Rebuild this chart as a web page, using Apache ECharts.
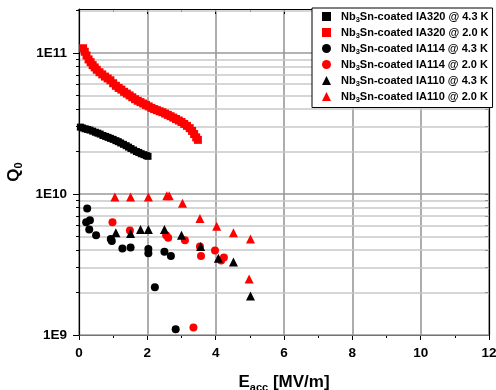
<!DOCTYPE html>
<html>
<head>
<meta charset="utf-8">
<script src="https://cdn.jsdelivr.net/npm/echarts@6/dist/echarts.min.js"></script>
<style>
  html, body { margin: 0; padding: 0; background: #fff; }
  #chart { width: 496px; height: 390px; }
</style>
</head>
<body>
<div id="chart"></div>
<script>
// Q0 vs Eacc for Nb3Sn-coated cavities
const seriesNames = [
  'IA320 @ 4.3 K',
  'IA320 @ 2.0 K',
  'IA114 @ 4.3 K',
  'IA114 @ 2.0 K',
  'IA110 @ 4.3 K',
  'IA110 @ 2.0 K',
];

const ia320At43 = [
  [0.04, 2.98e10], [0.1, 2.94e10], [0.18, 2.9e10], [0.25, 2.87e10], [0.32, 2.84e10],
  [0.4, 2.79e10], [0.48, 2.74e10], [0.55, 2.7e10], [0.62, 2.66e10], [0.7, 2.6e10],
  [0.78, 2.56e10], [0.85, 2.52e10], [0.92, 2.48e10], [1.0, 2.44e10], [1.08, 2.39e10],
  [1.15, 2.35e10], [1.22, 2.3e10], [1.3, 2.25e10], [1.38, 2.2e10], [1.45, 2.15e10],
  [1.52, 2.1e10], [1.6, 2.05e10], [1.68, 2.0e10], [1.75, 1.97e10], [1.82, 1.93e10],
  [1.9, 1.9e10], [1.97, 1.87e10], [2.02, 1.85e10],
];

const ia320At20 = [
  [0.12, 1.08e11], [0.17, 1.02e11], [0.22, 9.6e10], [0.28, 9.0e10], [0.34, 8.6e10],
  [0.4, 8.2e10], [0.46, 7.9e10], [0.52, 7.6e10], [0.6, 7.3e10], [0.68, 7.05e10],
  [0.76, 6.8e10], [0.84, 6.6e10], [0.92, 6.4e10], [1.0, 6.1e10], [1.08, 5.85e10],
  [1.16, 5.65e10], [1.24, 5.5e10], [1.32, 5.3e10], [1.4, 5.15e10], [1.48, 5.0e10],
  [1.56, 4.85e10], [1.64, 4.7e10], [1.72, 4.58e10], [1.8, 4.48e10], [1.88, 4.38e10],
  [1.96, 4.28e10], [2.04, 4.18e10], [2.12, 4.08e10], [2.2, 4.0e10], [2.28, 3.93e10],
  [2.36, 3.86e10], [2.44, 3.8e10], [2.52, 3.72e10], [2.6, 3.64e10], [2.68, 3.56e10],
  [2.76, 3.48e10], [2.84, 3.4e10], [2.92, 3.32e10], [3.0, 3.24e10], [3.08, 3.14e10],
  [3.16, 3.04e10], [3.24, 2.93e10], [3.31, 2.8e10], [3.37, 2.66e10], [3.43, 2.52e10],
  [3.48, 2.42e10],
];

const ia114At43 = [
  [0.24, 7.9e9], [0.32, 6.5e9], [0.21, 6.3e9], [0.3, 5.6e9], [0.5, 5.1e9],
  [0.93, 4.8e9], [0.96, 4.65e9], [1.27, 4.1e9], [1.51, 4.17e9], [2.03, 4.08e9],
  [2.03, 3.8e9], [2.5, 3.9e9], [2.69, 3.63e9], [2.22, 2.18e9], [2.83, 1.1e9],
];

const ia114At20 = [
  [0.98, 6.3e9], [1.49, 5.5e9], [2.55, 5.1e9], [2.61, 4.9e9], [3.1, 4.7e9],
  [3.54, 4.24e9], [3.57, 3.63e9], [3.98, 3.98e9], [4.16, 3.38e9], [4.24, 3.55e9],
  [3.35, 1.13e9],
];

const ia110At43 = [
  [1.08, 5.3e9], [1.51, 5.25e9], [1.8, 5.6e9], [2.03, 5.6e9], [2.5, 5.6e9],
  [3.0, 5.1e9], [3.56, 4.24e9], [4.08, 3.5e9], [4.52, 3.3e9], [5.02, 1.89e9],
];

const ia110At20 = [
  [1.05, 9.5e9], [1.51, 9.5e9], [2.03, 9.5e9], [2.57, 9.7e9], [2.64, 9.7e9],
  [3.03, 8.6e9], [3.54, 6.7e9], [4.03, 5.9e9], [4.52, 5.3e9], [5.02, 4.8e9],
  [4.98, 2.5e9],
];

const yMajorTicks = [1e9, 1e10, 1e11];
const yMinorTicks = [
  2e9, 3e9, 4e9, 5e9, 6e9, 7e9, 8e9, 9e9,
  2e10, 3e10, 4e10, 5e10, 6e10, 7e10, 8e10, 9e10,
  2e11,
];

const fontFamily = '"Liberation Sans", Arial, sans-serif';
const yMin = 1e9;
const yMax = 2.05e11;

const styles = [
  { color: '#000', symbol: 'rect', size: 7 },
  { color: '#f00', symbol: 'rect', size: 8 },
  { color: '#000', symbol: 'circle', size: 8 },
  { color: '#f00', symbol: 'circle', size: 8 },
  { color: '#000', symbol: 'triangle', size: 9 },
  { color: '#f00', symbol: 'triangle', size: 9 },
];
const allData = [ia320At43, ia320At20, ia114At43, ia114At20, ia110At43, ia110At20];

const chart = echarts.init(document.getElementById('chart'));

const series = allData.map((d, i) => ({
  name: seriesNames[i],
  type: 'scatter',
  data: d,
  symbol: styles[i].symbol,
  symbolSize: styles[i].size,
  itemStyle: { color: styles[i].color, opacity: 1 },
  z: 5,
}));

const logLabel = (v) => {
  const e = Math.round(Math.log10(v));
  return Math.abs(v - Math.pow(10, e)) / v < 1e-6 ? '1E' + e : '';
};

const tickLabelStyle = {
  color: '#000',
  fontFamily: fontFamily,
  fontWeight: 'bold',
  fontSize: 13.5,
};

const option = {
  animation: false,
  backgroundColor: '#fff',
  grid: { left: 79, right: 7, top: 9, bottom: 55, containLabel: false, outerBoundsMode: 'none' },
  legend: {
    orient: 'vertical',
    left: 312,
    top: 8,
    width: 178,
    padding: [3, 4, 4, 10],
    itemWidth: 9,
    itemHeight: 9,
    itemGap: 3.5,
    backgroundColor: '#fff',
    borderColor: '#000',
    borderWidth: 1,
    borderRadius: 0,
    data: seriesNames,
    formatter: (name) => '{p|Nb}{s|3}{n|Sn-coated ' + name + '}',
    textStyle: {
      rich: {
        p: { fontFamily: fontFamily, fontWeight: 'bold', fontSize: 11, color: '#000', padding: [0, 0, 0, 5] },
        n: { fontFamily: fontFamily, fontWeight: 'bold', fontSize: 11, color: '#000' },
        s: { fontFamily: fontFamily, fontWeight: 'bold', fontSize: 7.5, color: '#000', verticalAlign: 'bottom', padding: [6, 0, 0, 0] },
      },
    },
    z: 10,
  },
  xAxis: [
    {
      type: 'value',
      min: 0,
      max: 12,
      interval: 2,
      position: 'bottom',
      axisLine: { lineStyle: { color: '#000', width: 1.2 } },
      axisTick: { show: true, length: 5, lineStyle: { color: '#000' } },
      minorTick: { show: true, splitNumber: 2, length: 3, lineStyle: { color: '#000' } },
      axisLabel: Object.assign({ margin: 11 }, tickLabelStyle),
      splitLine: { show: true, lineStyle: { color: '#999', width: 1.6 } },
      name: '{a|E}{b|acc}{a| [MV/m]}',
      nameLocation: 'middle',
      nameGap: 37,
      nameTextStyle: {
        rich: {
          a: { fontFamily: fontFamily, fontWeight: 'bold', fontSize: 17, color: '#000' },
          b: { fontFamily: fontFamily, fontWeight: 'bold', fontSize: 11, color: '#000', verticalAlign: 'bottom', padding: [10, 0, 0, 0] },
        },
      },
    },
    {
      type: 'value',
      min: 0,
      max: 12,
      interval: 2,
      position: 'top',
      axisLine: { lineStyle: { color: '#000', width: 1.2 } },
      axisTick: { show: true, inside: true, length: 5, lineStyle: { color: '#000' } },
      minorTick: { show: true, splitNumber: 2, length: 3, lineStyle: { color: '#000' } },
      axisLabel: { show: false },
      splitLine: { show: false },
    },
  ],
  yAxis: [
    {
      type: 'log',
      logBase: 10,
      min: yMin,
      max: yMax,
      position: 'left',
      axisLine: { show: true, lineStyle: { color: '#000', width: 1.2 } },
      axisTick: { show: true, length: 6, customValues: yMajorTicks, lineStyle: { color: '#000' } },
      axisLabel: Object.assign({ margin: 12, formatter: logLabel, customValues: yMajorTicks }, tickLabelStyle),
      splitLine: { show: true, lineStyle: { color: '#999', width: 1.6 } },
      name: '{a|Q}{b|0}',
      nameLocation: 'middle',
      nameGap: 51,
      nameTextStyle: {
        rich: {
          a: { fontFamily: fontFamily, fontWeight: 'bold', fontSize: 17, color: '#000' },
          b: { fontFamily: fontFamily, fontWeight: 'bold', fontSize: 11, color: '#000', verticalAlign: 'bottom', padding: [10, 0, 0, 0] },
        },
      },
      z: 3,
    },
    {
      type: 'log',
      logBase: 10,
      min: yMin,
      max: yMax,
      position: 'left',
      axisLine: { show: false },
      axisTick: { show: true, length: 3, customValues: yMinorTicks, lineStyle: { color: '#000' } },
      axisLabel: { show: false },
      splitLine: { show: true, lineStyle: { color: '#c8c8c8', width: 1.5 } },
      z: 2,
    },
    {
      type: 'log',
      logBase: 10,
      min: yMin,
      max: yMax,
      position: 'right',
      axisLine: { show: true, lineStyle: { color: '#000', width: 1.2 } },
      axisTick: { show: true, inside: true, length: 4, customValues: yMajorTicks.concat(yMinorTicks), lineStyle: { color: '#000' } },
      axisLabel: { show: false },
      splitLine: { show: false },
    },
  ],
  series: series,
};

chart.setOption(option);
</script>
</body>
</html>
